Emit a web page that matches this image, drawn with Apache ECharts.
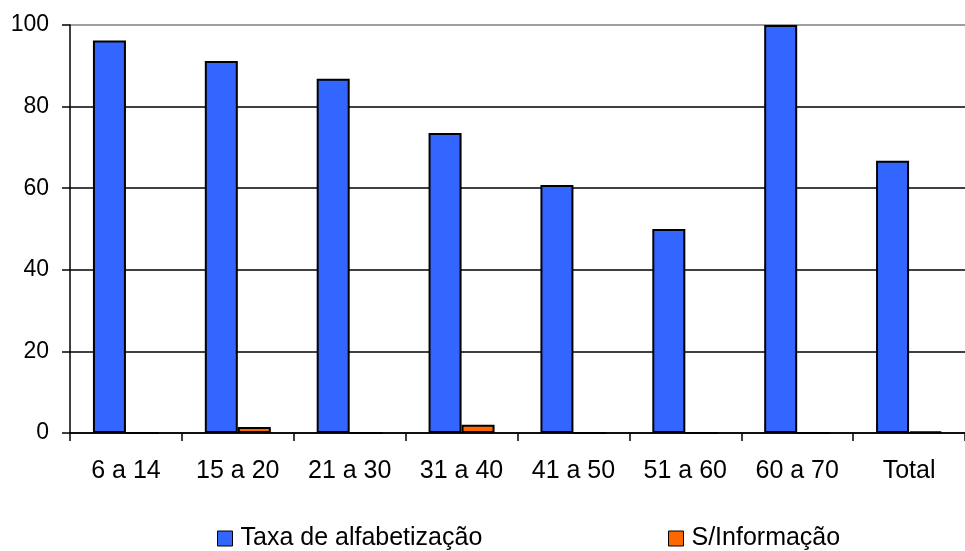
<!DOCTYPE html>
<html><head><meta charset="utf-8">
<script src="https://cdn.jsdelivr.net/npm/echarts@6/dist/echarts.min.js"></script>
<style>html,body{margin:0;padding:0;background:#fff}#c{width:965px;height:551px}</style>
</head><body><div id="c"></div>
<script>
const categories = ['6 a 14','15 a 20','21 a 30','31 a 40','41 a 50','51 a 60','60 a 70','Total'];
const taxaAlfabetizacao = [96.2, 91.2, 86.8, 73.5, 60.8, 50.0, 100, 66.7];
const semInformacao = [0, 1.5, 0, 2.0, 0, 0, 0, 0.4];
const yTicks = [0, 20, 40, 60, 80, 100];

const FONT = '"Liberation Sans", Arial, sans-serif';
const chart = echarts.init(document.getElementById('c'), null, {renderer:'canvas'});
chart.setOption({
  animation: false,
  textStyle: {fontFamily: FONT},
  grid: {left: 70, right: 0, top: 25, bottom: 118, containLabel: false},
  legend: [
    {left: 217, top: 526, padding: 0, icon: 'rect', itemWidth: 15, itemHeight: 15, itemGap: 0,
     data: [{name: 'Taxa de alfabetização', itemStyle: {borderColor: '#000', borderWidth: 1}}],
     textStyle: {fontSize: 25, color: '#000', fontFamily: FONT, padding: [0,0,0,3]}},
    {left: 668, top: 526, padding: 0, icon: 'rect', itemWidth: 15, itemHeight: 15, itemGap: 0,
     data: [{name: 'S/Informação', itemStyle: {borderColor: '#000', borderWidth: 1}}],
     textStyle: {fontSize: 25, color: '#000', fontFamily: FONT, padding: [0,0,0,3]}}
  ],
  xAxis: {
    type: 'category', data: categories, boundaryGap: true,
    axisLine: {lineStyle: {color: '#000', width: 1.5}},
    axisTick: {show: true, alignWithLabel: false, length: 8, lineStyle: {color: '#000', width: 1.5}},
    axisLabel: {fontSize: 25, color: '#000', margin: 26, fontFamily: FONT, interval: 0},
    splitLine: {show: false}
  },
  yAxis: {
    type: 'value', min: yTicks[0], max: yTicks[yTicks.length-1], interval: 20,
    axisLine: {show: true, lineStyle: {color: '#000', width: 1.5}},
    axisTick: {show: true, length: 8, lineStyle: {color: '#000', width: 1.5}},
    axisLabel: {fontSize: 23, color: '#000', margin: 21, fontFamily: FONT},
    splitLine: {show: true, lineStyle: {color: ['#000','#000','#000','#000','#000','#808080'], width: 1.5}}
  },
  series: [
    {name: 'Taxa de alfabetização', type: 'bar', data: taxaAlfabetizacao,
     barGap: '0%', barCategoryGap: '41%',
     itemStyle: {color: '#3366FF', borderColor: '#000', borderWidth: 2}},
    {name: 'S/Informação', type: 'bar', data: semInformacao,
     itemStyle: {color: '#FF6600', borderColor: '#000', borderWidth: 2}}
  ]
});
</script></body></html>
